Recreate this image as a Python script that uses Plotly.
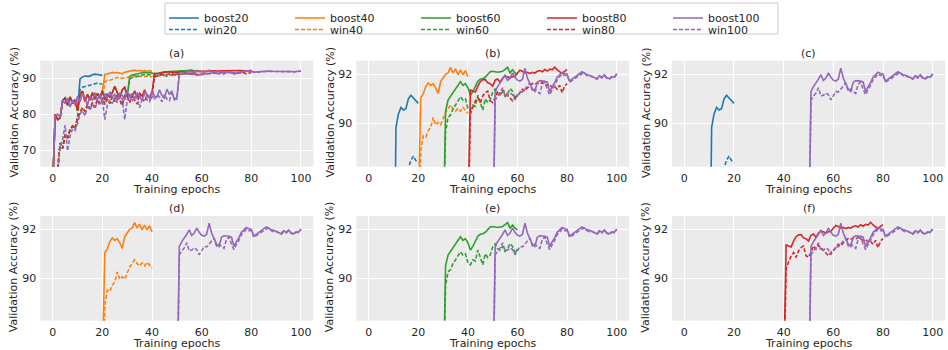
import plotly.graph_objects as go

# ---------------- data ----------------
# shared pre-switch history (epochs 0..40) of boost20/40/60/80
boost_base = [60.0, 80.0, 78.5, 79.0, 83.8, 84.5, 82.5, 84.8, 83.0, 84.0, 81.0,
              85.5, 86.4, 83.6, 85.5, 84.0, 86.0, 84.2, 85.8, 84.5, 86.5,
              84.0, 85.5, 84.8, 86.0, 87.8, 86.0, 84.5, 86.8, 87.5, 85.0,
              85.5, 84.6, 86.5, 84.8, 85.8, 85.0, 86.8, 85.2, 84.8, 86.0]
# pre-switch history (epochs 0..50) of boost100
boost100_pre = [60.0, 79.5, 80.0, 79.0, 84.0, 83.0, 84.5, 82.0, 84.0, 82.5, 85.0,
                83.5, 85.8, 84.5, 82.5, 85.0, 83.8, 86.0, 84.0, 85.5, 83.5,
                85.8, 84.5, 86.2, 84.8, 85.5, 83.8, 86.0, 85.2, 84.0, 86.5,
                84.5, 85.8, 84.2, 86.0, 85.0, 83.8, 86.2, 85.5, 84.5, 86.5,
                85.0, 84.8, 86.8, 85.2, 84.5, 87.0, 85.5, 86.5, 84.0, 84.5]
# shared pre-switch history (epochs 0..40) of win20/40/60/80
win_base = [50.0, 58.0, 64.0, 72.0, 70.5, 74.3, 73.4, 75.7, 76.7, 76.0, 79.0,
            80.5, 81.8, 80.8, 82.7, 81.5, 83.2, 82.0, 84.1, 83.0, 84.5,
            82.8, 84.2, 83.0, 85.0, 83.5, 85.5, 84.0, 82.5, 85.2, 84.8,
            83.2, 85.5, 84.0, 82.8, 85.8, 84.2, 83.5, 85.5, 84.0, 85.0]
# pre-switch history (epochs 0..50) of win100
win100_pre = [48.0, 56.0, 63.0, 71.0, 73.0, 77.0, 69.8, 74.0, 76.0, 75.5, 77.5,
              80.0, 81.0, 79.5, 82.0, 81.2, 82.8, 81.5, 83.5, 82.5, 84.0,
              78.5, 82.5, 84.0, 83.0, 84.8, 83.2, 85.0, 84.2, 78.5, 84.0,
              85.2, 83.5, 85.0, 84.5, 81.8, 84.2, 85.5, 84.0, 83.5, 85.2,
              84.0, 85.5, 84.8, 83.5, 85.5, 84.2, 83.8, 85.8, 84.5, 84.2]

# after-switch values
boost20_tail = [89.85, 90.4, 90.65, 90.55, 90.6, 91.0, 91.15, 91.05, 90.92, 90.82]
win20_tail = [86.8, 87.5, 87.7, 87.9, 88.0, 88.2, 88.5, 88.68, 88.5, 88.42]

boost40_tail = [91.05, 91.2, 91.5, 91.65, 91.55, 91.62, 91.45, 91.22, 91.7, 91.85,
                92.0, 92.05, 92.28, 92.05, 92.22, 91.98, 92.18, 91.98, 92.15, 91.9]
win40_tail = [88.9, 89.5, 89.45, 89.7, 89.85, 90.25, 89.95, 90.05, 89.95, 90.2,
              90.45, 90.6, 90.75, 90.6, 90.5, 90.62, 90.5, 90.65, 90.55, 90.42]

boost60_tail = [90.5, 90.95, 91.1, 91.2, 91.4, 91.5, 91.7, 91.55, 91.62, 91.45,
                91.15, 91.3, 91.5, 91.72, 91.8, 91.82, 91.88, 92.0, 92.1, 92.12,
                92.1, 92.08, 92.1, 92.12, 92.2, 92.28, 92.05, 92.18, 92.05, 91.98]
win60_tail = [89.7, 90.25, 90.35, 90.6, 90.75, 90.9, 91.08, 90.95, 91.0, 90.62,
              90.55, 90.75, 90.7, 91.15, 90.8, 90.55, 91.0, 90.85, 90.95, 91.28,
              91.4, 91.2, 91.15, 91.3, 91.1, 91.2, 91.42, 91.3, 91.0, 91.2]

boost80_tail = [91.36, 91.32, 91.28, 91.52, 91.7, 91.78, 91.79, 91.65, 91.62, 91.52,
                91.76, 91.81, 91.68, 91.85, 91.92, 91.9, 91.85, 91.9, 91.92, 92.05,
                92.16, 92.12, 92.05, 92.08, 92.03, 92.08, 92.05, 92.12, 92.15, 92.1,
                92.19, 92.13, 92.21, 92.18, 92.29, 92.18, 92.1, 92.03, 92.12, 92.2]
win80_tail = [90.4, 90.65, 90.92, 91.05, 90.85, 91.12, 91.25, 91.32, 90.92, 90.85,
              91.05, 91.32, 91.19, 91.36, 91.25, 91.12, 90.99, 90.92, 91.05, 91.12,
              91.25, 91.39, 91.32, 91.45, 91.52, 91.63, 91.6, 91.65, 91.6, 91.68,
              91.6, 91.55, 91.59, 91.45, 91.5, 91.39, 91.55, 91.25, 91.52, 91.62]

boost100_tail = [91.3, 91.5, 91.64, 91.8, 91.98, 91.75, 91.85, 92.05, 91.88, 91.76,
                 91.72, 91.8, 92.25, 91.85, 91.62, 91.4, 91.3, 91.68, 91.74, 91.74,
                 91.72, 91.68, 91.3, 91.5, 91.66, 91.88, 91.98, 92.08, 92.03, 92.0,
                 91.72, 91.8, 91.86, 91.95, 92.03, 92.1, 92.05, 91.98, 91.96, 91.92,
                 91.86, 91.82, 91.95, 91.88, 91.98, 91.86, 91.82, 91.9, 91.88, 92.02]
win100_tail = [90.95, 91.12, 91.24, 91.45, 91.12, 91.15, 91.24, 91.17, 90.96, 91.12,
               91.3, 91.28, 91.4, 91.5, 91.64, 91.32, 91.4, 91.3, 91.22, 91.6,
               91.68, 91.4, 91.17, 91.38, 91.55, 91.78, 91.9, 92.01, 91.95, 91.96,
               91.68, 91.74, 91.82, 91.88, 91.95, 92.02, 92.05, 91.95, 91.9, 91.92,
               91.85, 91.8, 91.9, 91.85, 91.95, 91.84, 91.8, 91.88, 91.86, 92.0]

budgets = [20, 40, 60, 80, 100]
boost = {
    20: boost_base[:11] + boost20_tail,
    40: boost_base[:21] + boost40_tail,
    60: boost_base[:31] + boost60_tail,
    80: boost_base[:41] + boost80_tail,
    100: boost100_pre + boost100_tail,
}
win = {
    20: win_base[:11] + win20_tail,
    40: win_base[:21] + win40_tail,
    60: win_base[:31] + win60_tail,
    80: win_base[:41] + win80_tail,
    100: win100_pre + win100_tail,
}

panel_titles = ["(a)", "(b)", "(c)", "(d)", "(e)", "(f)"]
panel_series = [[20, 40, 60, 80, 100], [20, 40, 60, 80, 100],
                [20, 100], [40, 100], [60, 100], [80, 100]]
x_ticks = [0, 20, 40, 60, 80, 100]
full_ticks = [70, 80, 90]
zoom_ticks = [90, 92]

# ---------------- styling / layout ----------------
W, H = 948, 350
colors = {20: "#1f77b4", 40: "#ff7f0e", 60: "#2ca02c", 80: "#d62728", 100: "#9467bd"}
col_px = [(40.3, 313.4), (356.3, 629.1), (671.9, 945.1)]
row_px = [(60.7, 166.7), (216.0, 320.7)]
FONT = "DejaVu Sans"
TXT = "#262626"
LW = 1.6

fig = go.Figure()
legend_common = dict(orientation="h", xanchor="left", x=164 / W, yanchor="top",
                     bgcolor="rgba(0,0,0,0)", borderwidth=0,
                     font=dict(family=FONT, size=11, color=TXT),
                     entrywidth=81, traceorder="normal", itemwidth=30)
layout = dict(
    width=W, height=H, margin=dict(l=0, r=0, t=0, b=0),
    paper_bgcolor="white", plot_bgcolor="#EBEBEB",
    font=dict(family=FONT, size=11, color=TXT),
    showlegend=True,
    legend=dict(legend_common, y=1 - 3.5 / H),
    legend2=dict(legend_common, y=1 - 15.0 / H),
    shapes=[dict(type="rect", xref="paper", yref="paper",
                 x0=165 / W, x1=778 / W, y0=1 - 34 / H, y1=1 - 3 / H,
                 line=dict(color="#cccccc", width=1), fillcolor="white",
                 layer="below")],
)
annotations = []

for p in range(6):
    r, c = divmod(p, 3)
    ax = "" if p == 0 else str(p + 1)
    x0, x1 = col_px[c]
    top, bot = row_px[r]
    xdom = [x0 / W, x1 / W]
    ydom = [(H - bot) / H, (H - top) / H]
    full = (p == 0)
    layout["xaxis" + ax] = dict(
        domain=xdom, range=[-5, 105], tickvals=x_ticks, showgrid=True,
        gridcolor="white", gridwidth=1, zeroline=False, showline=False,
        ticks="", ticklabelstandoff=3, tickfont=dict(size=11, color=TXT),
        anchor="y" + ax, automargin=False)
    layout["yaxis" + ax] = dict(
        domain=ydom, range=[65.4, 94.9] if full else [88.25, 92.55],
        tickvals=full_ticks if full else zoom_ticks, showgrid=True,
        gridcolor="white", gridwidth=1, zeroline=False, showline=False,
        ticks="", ticklabelstandoff=3, tickfont=dict(size=11, color=TXT),
        anchor="x" + ax, automargin=False)
    xc = (x0 + x1) / 2 / W
    annotations.append(dict(text=panel_titles[p], x=xc, y=(H - (top - 7.5)) / H,
                            xref="paper", yref="paper", showarrow=False,
                            xanchor="center", yanchor="middle",
                            font=dict(size=11, color=TXT)))
    annotations.append(dict(text="Training epochs", x=xc, y=(H - (bot + 22.8)) / H,
                            xref="paper", yref="paper", showarrow=False,
                            xanchor="center", yanchor="middle",
                            font=dict(size=11, color=TXT)))
    annotations.append(dict(text="Validation Accuracy (%)", x=(x0 - 26) / W,
                            y=(H - (top + bot) / 2 + 1.5) / H,
                            xref="paper", yref="paper", showarrow=False, textangle=-90,
                            xanchor="center", yanchor="middle",
                            font=dict(size=11, color=TXT)))

    for b in panel_series[p]:
        for kind, data, dash, leg in (("boost", boost[b], "solid", "legend"),
                                      ("win", win[b], "4px,2px", "legend2")):
            fig.add_trace(go.Scatter(
                x=list(range(len(data))), y=data, mode="lines",
                line=dict(color=colors[b], width=LW, dash=dash),
                name=f"{kind}{b}", showlegend=full, legend=leg,
                legendrank=budgets.index(b) + 1,
                xaxis="x" + ax, yaxis="y" + ax, hoverinfo="skip"))

layout["annotations"] = annotations
fig.update_layout(**layout)
fig.write_html("out.html", config={"displayModeBar": False, "staticPlot": True},
               post_script="document.body.style.margin='0';document.body.style.overflow='hidden';")
